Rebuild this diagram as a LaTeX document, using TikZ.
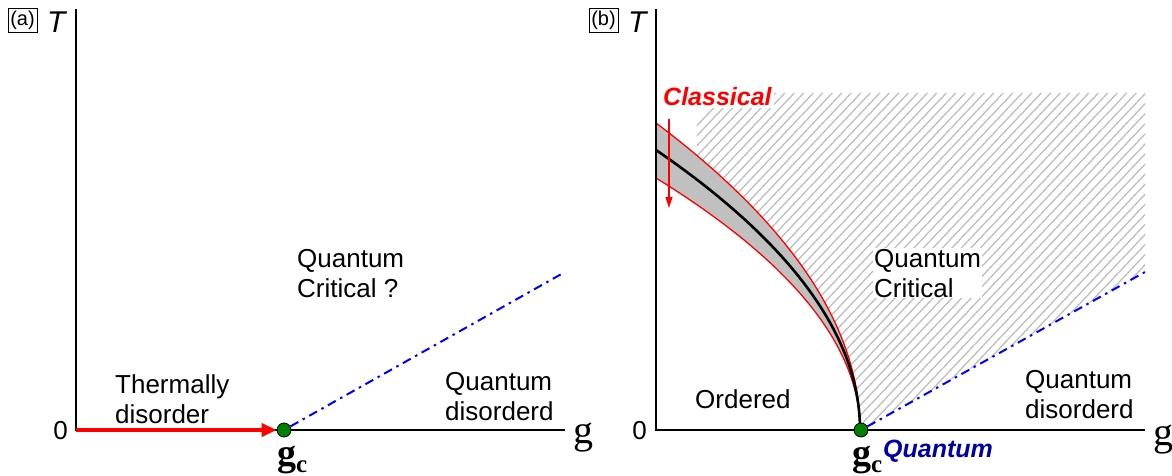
\documentclass[tikz,border=0pt]{standalone}
\usepackage{fontspec}
\setmainfont{Liberation Sans}
\newfontfamily\serifg{Liberation Serif}
\usetikzlibrary{arrows.meta}
\definecolor{hatchgray}{RGB}{190,190,190}
\definecolor{bandgray}{RGB}{192,192,192}
\definecolor{dotgreen}{RGB}{0,128,0}
\definecolor{qblue}{RGB}{0,0,170}
\begin{document}
\begin{tikzpicture}[x=1pt,y=-1pt,
  lbl/.style={font=\fontsize{26}{30}\selectfont, inner sep=0pt, align=left, anchor=base west},
  axis/.style={line width=1.5pt, black},
  tag/.style={draw, line width=0.8pt, inner sep=0pt, minimum width=29pt, minimum height=24pt, font=\fontsize{20}{22}\selectfont},
  tlabel/.style={font=\fontsize{30}{32}\selectfont\itshape, inner sep=0pt, anchor=base west},
  zero/.style={font=\fontsize{26}{28}\selectfont, inner sep=0pt, anchor=base east},
  glabel/.style={font=\fontsize{40}{44}\selectfont\serifg, inner sep=0pt, anchor=base west},
  gclabel/.style={font=\fontsize{38}{40}\selectfont\serifg\bfseries, inner sep=0pt, anchor=base west},
  dot/.style={circle, fill=dotgreen, draw=black, line width=0.8pt, minimum size=14pt, inner sep=0pt},
  dashdot/.style={blue, line width=2pt, dash pattern=on 9pt off 5pt on 2.5pt off 5pt},
  hatchline/.style={hatchgray, line width=1.3pt},
  redcurve/.style={red, line width=1.3pt},
]
\useasboundingbox (0,0) rectangle (1172,476);

% ---------------- panel (a) ----------------
\node[tag] (taga) at (22.5,20) {(a)};
\node[tlabel] (Ta) at (47,33) {T};
\coordinate (a0) at (76,430);
\coordinate (atop) at (76,9);
\coordinate (aend) at (565,430);
\draw[axis] (atop) -- (a0) -- (aend);
\node[zero] (za) at (68,439) {0};
\node[glabel] (ga) at (573,443) {g};
\node[dot] (gca) at (284,430) {};
\draw[red, line width=4pt, -{Triangle[length=15pt,width=13pt]}] (a0) -- (gca.west);
\coordinate (ablue) at (565,272);
\draw[dashdot] (gca) -- (ablue);
\node[gclabel] (gcla) at (277,465) {g\raisebox{-7pt}{\fontsize{25}{25}\selectfont c}};
\node[lbl] (qca) at (297,297) {Quantum\\Critical ?};
\node[lbl] (tda) at (115,423) {Thermally\\disorder};
\node[lbl] (qda) at (445,420) {Quantum\\disorderd};

% ---------------- panel (b) ----------------
\node[tag] (tagb) at (603.5,20.5) {(b)};
\node[tlabel] (Tb) at (628,33) {T};
\coordinate (b0) at (656,430);
\coordinate (btop) at (656,9);
\coordinate (bend) at (1145,430);
\coordinate (gcb) at (860,430);

% hatched quantum critical region
\begin{scope}
  \clip (697,93) -- (1145,93) -- (1145,272) -- (gcb)
    -- plot[domain=0:0.894, samples=60, variable=\t] ({860-204*\t*\t},{430-307*\t}) -- cycle;
  \foreach \i in {0,...,86} {
    \draw[hatchline] (400+9.5*\i,440) -- ++(340,-360);
  }
\end{scope}

% gray band
\fill[bandgray] plot[domain=1:0, samples=80, variable=\t] ({860-204*\t*\t},{430-307*\t})
  -- plot[domain=0:1, samples=80, variable=\t] ({860-204*\t*\t},{430-252*\t}) -- cycle;
\draw[redcurve] plot[domain=0:1, samples=80, variable=\t] ({860-204*\t*\t},{430-307*\t});
\draw[redcurve] plot[domain=0:1, samples=80, variable=\t] ({860-204*\t*\t},{430-252*\t});
\draw[black, line width=2.6pt] plot[domain=0:1, samples=80, variable=\t] ({860-204*\t*\t},{430-280*\t});

\draw[axis] (btop) -- (b0) -- (bend);
\node[zero] (zb) at (647,439) {0};
\node[glabel] (gb) at (1153,445) {g};
\coordinate (bblue) at (1145,272);
\node[dot] (gcbd) at (861,430) {};
\draw[dashdot] (gcbd) -- (bblue);
\node[gclabel] (gclb) at (852,465) {g\raisebox{-7pt}{\fontsize{25}{25}\selectfont c}};

\node[font=\fontsize{25}{30}\selectfont\bfseries\itshape, text=red, fill=white, inner sep=2pt, anchor=base west] (cls) at (661,106) {Classical};
\coordinate (arrtop) at (669,119);
\coordinate (arrbot) at (669,208);
\draw[red, line width=1.1pt, -{Triangle[length=11pt,width=7pt]}] (arrtop) -- (arrbot);

\node[font=\fontsize{25}{30}\selectfont\bfseries\itshape, text=qblue, inner sep=0pt, anchor=base west] (qb) at (883,457) {Quantum};
\node[lbl, fill=white, inner sep=1pt] (qcb) at (873,297) {Quantum\\Critical};
\node[lbl] (ord) at (695,408) {Ordered};
\node[lbl] (qdb) at (1025,418) {Quantum\\disorderd};
\end{tikzpicture}
\end{document}
